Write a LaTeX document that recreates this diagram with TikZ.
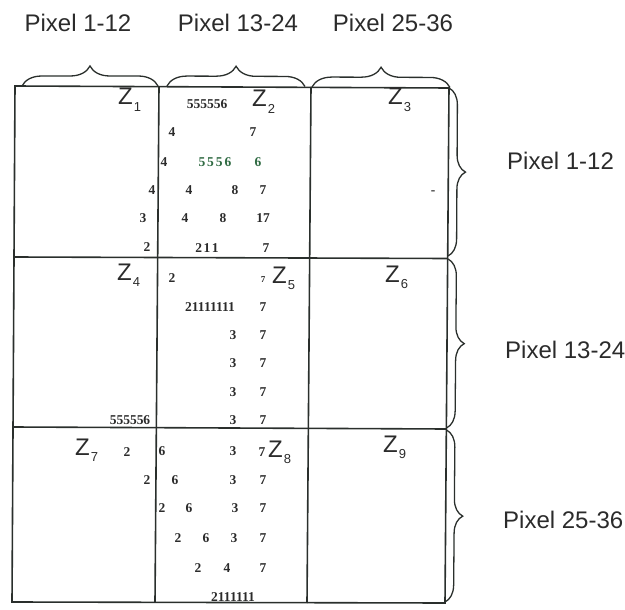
\documentclass[tikz,border=0pt]{standalone}
\usepackage{fontspec}
\setmainfont{Liberation Serif}
\setsansfont{Liberation Sans}
\usetikzlibrary{decorations.pathreplacing}
\definecolor{ink}{HTML}{2A2F2C}
\definecolor{txt}{HTML}{2B2B2B}
\definecolor{gr}{HTML}{2F6A42}
\newcommand\zlab[1]{{\fontsize{24}{24}\selectfont Z}\kern1pt\raisebox{-6.5pt}{\fontsize{13}{13}\selectfont #1}}
\begin{document}
\begin{tikzpicture}[x=1pt,y=-1pt,
  grid/.style={draw=ink, line width=1.6pt},
  bracedeco/.style={draw=ink, line width=1.3pt, decorate, decoration={brace, amplitude=#1}},
  num/.style={inner sep=0pt, font=\fontsize{13.5}{13.5}\selectfont\bfseries, text=txt},
  gnum/.style={num, text=gr},
  zl/.style={inner sep=0pt, anchor=base west, font=\sffamily, text=txt},
  lab/.style={inner sep=0pt, font=\sffamily\fontsize{24}{24}\selectfont, text=txt}]
\useasboundingbox (0,0) rectangle (625,610);
% grid (slightly skewed as in the scan)
\draw[grid] (15,86) -- (449,88) -- (445,603) -- (12,602) -- cycle;
\draw[grid] (159,86.5) -- (155,602);
\draw[grid] (311,87) -- (307,603);
\draw[grid] (14,257) -- (447,258.5);
\draw[grid] (13,427) -- (446,429);
% brace end points
\coordinate (t1a) at (22,86); \coordinate (t1b) at (158,86);
\coordinate (t2a) at (167,86); \coordinate (t2b) at (305,86.5);
\coordinate (t3a) at (312,87); \coordinate (t3b) at (450,87.5);
\coordinate (r1a) at (449,88); \coordinate (r1b) at (448,256);
\coordinate (r2a) at (448,259); \coordinate (r2b) at (446.5,428);
\coordinate (r3a) at (446.5,430); \coordinate (r3b) at (445,602);
\draw[bracedeco=20pt] (t1a) -- (t1b);
\draw[bracedeco=20pt] (t2a) -- (t2b);
\draw[bracedeco=20pt] (t3a) -- (t3b);
\draw[bracedeco=17pt] (r1a) -- (r1b);
\draw[bracedeco=17pt] (r2a) -- (r2b);
\draw[bracedeco=17pt] (r3a) -- (r3b);
% labels
\node[lab, anchor=base] (lt1) at (78,32) {Pixel 1-12};
\node[lab, anchor=base] (lt2) at (238,32) {Pixel 13-24};
\node[lab, anchor=base] (lt3) at (393,32) {Pixel 25-36};
\node[lab, anchor=base west] (lr1) at (507,170) {Pixel 1-12};
\node[lab, anchor=base west] (lr2) at (505,358) {Pixel 13-24};
\node[lab, anchor=base west] (lr3) at (503,528) {Pixel 25-36};
% Z labels
\node[zl] (z1) at (118,105) {\zlab{1}};
\node[zl] (z2) at (252,107) {\zlab{2}};
\node[zl] (z3) at (388,105) {\zlab{3}};
\node[zl] (z4) at (117,280) {\zlab{4}};
\node[zl] (z5) at (272,283) {\zlab{5}};
\node[zl] (z6) at (385,282) {\zlab{6}};
\node[zl] (z7) at (75,455) {\zlab{7}};
\node[zl] (z8) at (268,457) {\zlab{8}};
\node[zl] (z9) at (383,452) {\zlab{9}};
% cell 1
\node[num] (a1) at (152,190) {4};
\node[num] (a2) at (143,218) {3};
\node[num] (a3) at (147,247) {2};
% cell 2
\node[num] (b1) at (207,104) {555556};
\node[num] (b2) at (172,132) {4};
\node[num] (b3) at (253,132) {7};
\node[num] (b4) at (164,162) {4};
\node[gnum] (b5) at (215,162) {5\kern2pt5\kern2pt5\kern2pt6};
\node[gnum] (b6) at (258,162) {6};
\node[num] (b7) at (189,190) {4};
\node[num] (b8) at (235,190) {8};
\node[num] (b9) at (263,190) {7};
\node[num] (b10) at (185,218) {4};
\node[num] (b11) at (223,218) {8};
\node[num] (b12) at (263,218) {17};
\node[num] (b13) at (207,248) {2\kern1.5pt1\kern1.5pt1};
\node[num] (b14) at (266,248) {7};
% cell 3
\node[num] (c1) at (433,193) {-};
% cell 4
\node[num] (d1) at (130,420) {555556};
% cell 5
\node[num] (e1) at (172,278) {2};
\node[num, font=\fontsize{9}{9}\selectfont\bfseries] (e2) at (263,280) {7};
\node[num] (e3) at (210,307) {21111111};
\node[num] (e4) at (263,307) {7};
\node[num] (e5) at (233,335) {3};
\node[num] (e6) at (263,335) {7};
\node[num] (e7) at (233,363) {3};
\node[num] (e8) at (263,363) {7};
\node[num] (e9) at (233,392) {3};
\node[num] (e10) at (263,392) {7};
\node[num] (e11) at (233,420) {3};
\node[num] (e12) at (263,420) {7};
% cell 7
\node[num] (g1) at (127,452) {2};
\node[num] (g2) at (147,480) {2};
% cell 8
\node[num] (h1) at (162,451) {6};
\node[num] (h2) at (233,451) {3};
\node[num] (h3) at (262,452) {7};
\node[num] (h4) at (175,480) {6};
\node[num] (h5) at (233,480) {3};
\node[num] (h6) at (263,480) {7};
\node[num] (h7) at (162,508) {2};
\node[num] (h8) at (189,508) {6};
\node[num] (h9) at (235,508) {3};
\node[num] (h10) at (263,508) {7};
\node[num] (h11) at (178,538) {2};
\node[num] (h12) at (206,538) {6};
\node[num] (h13) at (234,538) {3};
\node[num] (h14) at (263,538) {7};
\node[num] (h15) at (198,568) {2};
\node[num] (h16) at (227,568) {4};
\node[num] (h17) at (263,568) {7};
\node[num] (h18) at (233,597) {2111111};
\end{tikzpicture}
\end{document}
